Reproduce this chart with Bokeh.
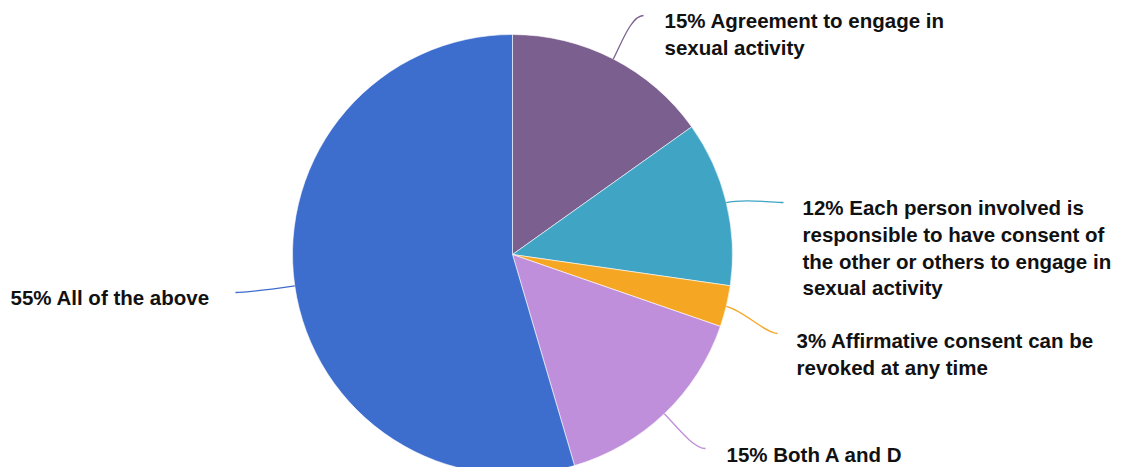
import math
from bokeh.plotting import figure
from bokeh.models import Range1d
from bokeh.core.properties import value
from bokeh.embed import file_html
from bokeh.resources import INLINE

# ---- data ----
categories = [
    "Agreement to engage in\nsexual activity",
    "Each person involved is\nresponsible to have consent of\nthe other or others to engage in\nsexual activity",
    "Affirmative consent can be\nrevoked at any time",
    "Both A and D",
    "All of the above",
]
shares = [15.15, 12.12, 3.03, 15.15, 54.55]   # percent
pct_labels = ["15%", "12%", "3%", "15%", "55%"]
colors = ["#7B5F8E", "#40A4C4", "#F5A623", "#BF8FDB", "#3D6DCD"]

# ---- layout (pixel coords, y down) ----
W, H = 1116, 467
CX, CY, R = 512, 254, 220
label_x = [664, 802, 796, 726, 10]
label_y = [20, 207, 340, 454, 297]
leader_end = [(643, 15), (783, 202), (777, 333), (705, 448), (235, 292)]
LINE_H = 26.8
FONT = "Liberation Sans"
FSIZE = "20.5px"

p = figure(width=W, height=H, output_backend="svg", toolbar_location=None,
           x_range=Range1d(0, W), y_range=Range1d(-H, 0),
           min_border=0, outline_line_color=None)
p.axis.visible = False
p.grid.visible = False
p.background_fill_color = "white"
p.border_fill_color = "white"

total = float(sum(shares))
cum = 0.0
for i, s in enumerate(shares):
    a0 = cum / total * 2 * math.pi
    cum += s
    a1 = cum / total * 2 * math.pi
    # clockwise from 12 o'clock
    p.wedge(x=CX, y=-CY, radius=R,
            start_angle=math.pi / 2 - a1, end_angle=math.pi / 2 - a0,
            fill_color=colors[i], line_color="white", line_width=0.6)
    # leader line
    mid = (a0 + a1) / 2
    sx, sy = CX + R * math.sin(mid), CY - R * math.cos(mid)
    ex, ey = leader_end[i]
    dx, dy = math.sin(mid), -math.cos(mid)
    k = 18
    hdir = 1 if ex > sx else -1
    c0 = (sx + dx * k, sy + dy * k)
    c1 = (ex - hdir * 12, ey)
    p.bezier(x0=sx, y0=-sy, x1=ex, y1=-ey, cx0=c0[0], cy0=-c0[1],
             cx1=c1[0], cy1=-c1[1], line_color=colors[i], line_width=1.3)
    # label
    lines = f"{pct_labels[i]} {categories[i]}".split("\n")
    for j, ln in enumerate(lines):
        p.text(x=[label_x[i]], y=[-(label_y[i] + j * LINE_H)], text=[ln],
               text_font=value(FONT), text_font_style="bold",
               text_font_size=FSIZE, text_color="#111111",
               text_baseline="middle", text_align="left")

open("out.html", "w").write(file_html(p, INLINE))
